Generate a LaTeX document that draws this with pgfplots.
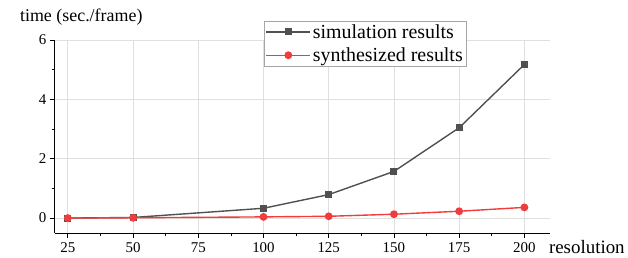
\documentclass[border=0pt]{standalone}
\usepackage{pgfplots}
\pgfplotsset{compat=1.18}
\usepackage{fontspec}
\setmainfont{Liberation Serif}
\definecolor{simc}{RGB}{80,80,80}
\definecolor{sync}{RGB}{240,60,60}
\begin{document}
\begin{tikzpicture}
\begin{axis}[
  scale only axis,
  width=498pt, height=194pt,
  xmin=20, xmax=210, ymin=-0.5, ymax=6,
  axis lines*=left,
  axis line style={black, line width=0.8pt, -},
  xtick={25,50,75,100,125,150,175,200},
  ytick={0,2,4,6},
  minor xtick={37.5,62.5,87.5,112.5,137.5,162.5,187.5},
  minor ytick={1,3,5},
  tick align=outside,
  major tick length=5pt, minor tick length=3pt,
  tick style={black, line width=0.6pt},
  grid=major,
  major grid style={gray!25, line width=0.6pt},
  tick label style={font=\fontsize{15}{17}\selectfont},
  /pgf/number format/assume math mode=true,
  xticklabel style={yshift=-1pt},
  xlabel={resolution},
  xlabel style={at={(axis description cs:0.99,-0.072)}, anchor=west, font=\fontsize{19}{21}\selectfont},
  ylabel={time (sec./frame)},
  ylabel style={at={(axis description cs:-0.077,1.119)}, anchor=west, rotate=-90, font=\fontsize{18}{20}\selectfont},
  legend style={at={(axis description cs:0.422,1.1)}, anchor=north west, draw=gray!70, line width=0.6pt, font=\fontsize{20}{22}\selectfont, row sep=4pt, inner sep=1.5pt},
  legend cell align=left,
  legend image code/.code={\draw[#1] (0pt,0pt) -- (44pt,0pt); \draw[#1, only marks] plot coordinates {(22pt,0pt)};},
]
\addplot[simc, line width=1.4pt, mark=square*, mark size=2.8pt] coordinates {
 (25,0) (50,0.02) (100,0.33) (125,0.79) (150,1.57) (175,3.04) (200,5.17)};
\addlegendentry{simulation results}
\addplot[sync, line width=1.4pt, mark=*, mark size=3.2pt] coordinates {
 (25,0) (50,0.01) (100,0.04) (125,0.06) (150,0.13) (175,0.23) (200,0.36)};
\addlegendentry{synthesized results}
\end{axis}
\path (current axis.south west) ++(-55pt,-25pt) rectangle ++(628pt,259pt);
\end{tikzpicture}
\end{document}
